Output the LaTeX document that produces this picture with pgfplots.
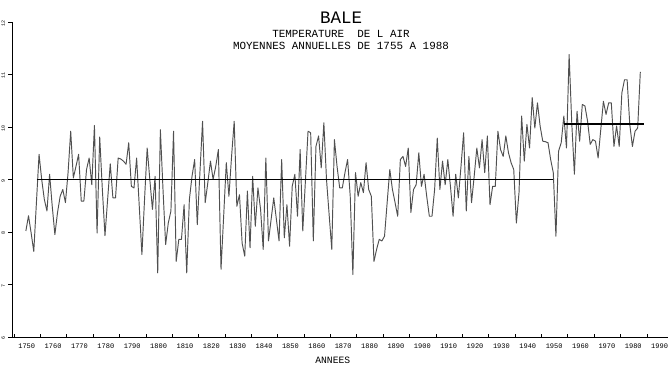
\documentclass[border=0pt]{standalone}
\usepackage{fontspec}
\setmonofont{Liberation Mono}
\usepackage{pgfplots}
\usepackage{pgfplotstable}
\pgfplotsset{compat=1.18}
\definecolor{dataline}{RGB}{80,80,80}
\pgfplotstableread{
year T
1755 8.02
1756 8.31
1757 7.98
1758 7.63
1759 8.56
1760 9.48
1761 9.00
1762 8.62
1763 8.40
1764 9.10
1765 8.49
1766 7.95
1767 8.37
1768 8.68
1769 8.81
1770 8.56
1771 9.13
1772 9.92
1773 9.03
1774 9.25
1775 9.48
1776 8.59
1777 8.59
1778 9.19
1779 9.41
1780 8.90
1781 10.03
1782 7.98
1783 9.81
1784 8.81
1785 7.93
1786 8.62
1787 9.30
1788 8.65
1789 8.65
1790 9.41
1791 9.39
1792 9.35
1793 9.29
1794 9.70
1795 8.87
1796 8.84
1797 9.41
1798 8.49
1799 7.57
1800 8.62
1801 9.60
1802 9.00
1803 8.43
1804 9.06
1805 7.22
1806 9.95
1807 8.81
1808 7.76
1809 8.17
1810 8.40
1811 9.92
1812 7.44
1813 7.86
1814 7.86
1815 8.52
1816 7.22
1817 8.62
1818 9.06
1819 9.38
1820 8.14
1821 9.13
1822 10.11
1823 8.56
1824 8.94
1825 9.35
1826 9.00
1827 9.25
1828 9.57
1829 7.29
1830 8.30
1831 9.32
1832 8.68
1833 9.44
1834 10.11
1835 8.49
1836 8.71
1837 7.79
1838 7.54
1839 8.78
1840 7.70
1841 9.06
1842 8.11
1843 8.84
1844 8.43
1845 7.67
1846 9.41
1847 7.83
1848 8.24
1849 8.65
1850 8.24
1851 7.83
1852 9.38
1853 7.89
1854 8.52
1855 7.73
1856 8.87
1857 9.10
1858 8.30
1859 9.57
1860 8.02
1861 8.97
1862 9.92
1863 9.89
1864 7.83
1865 9.63
1866 9.83
1867 9.22
1868 10.08
1869 9.00
1870 8.33
1871 7.67
1872 9.76
1873 9.25
1874 8.84
1875 8.84
1876 9.13
1877 9.38
1878 8.68
1879 7.19
1880 9.13
1881 8.68
1882 8.94
1883 8.75
1884 9.32
1885 8.81
1886 8.68
1887 7.44
1888 7.67
1889 7.86
1890 7.83
1891 7.92
1892 8.56
1893 9.19
1894 8.81
1895 8.56
1896 8.30
1897 9.38
1898 9.44
1899 9.25
1900 9.60
1901 8.37
1902 8.81
1903 8.90
1904 9.51
1905 8.87
1906 9.10
1907 8.68
1908 8.30
1909 8.30
1910 8.81
1911 9.79
1912 8.81
1913 9.35
1914 8.90
1915 9.38
1916 8.87
1917 8.30
1918 9.10
1919 8.65
1920 9.25
1921 9.89
1922 8.40
1923 9.44
1924 8.56
1925 9.06
1926 9.60
1927 9.22
1928 9.76
1929 9.13
1930 9.83
1931 8.52
1932 8.87
1933 8.87
1934 9.92
1935 9.57
1936 9.44
1937 9.83
1938 9.51
1939 9.32
1940 9.19
1941 8.17
1942 8.75
1943 10.21
1944 9.35
1945 10.05
1946 9.60
1947 10.56
1948 9.98
1949 10.46
1950 10.02
1951 9.73
1952 9.72
1953 9.70
1954 9.38
1955 9.13
1956 7.92
1957 9.54
1958 9.70
1959 10.21
1960 9.60
1961 11.38
1962 10.08
1963 9.10
1964 10.30
1965 9.73
1966 10.43
1967 10.40
1968 10.11
1969 9.67
1970 9.76
1971 9.73
1972 9.41
1973 9.95
1974 10.49
1975 10.24
1976 10.46
1977 10.46
1978 9.63
1979 10.02
1980 9.63
1981 10.65
1982 10.90
1983 10.90
1984 10.05
1985 9.63
1986 9.92
1987 9.98
1988 11.05
}\basle
\begin{document}
\begin{tikzpicture}
\useasboundingbox (0,0) rectangle (669pt,-365pt);
\begin{axis}[
  at={(12pt,-337pt)}, anchor=south west,
  scale only axis, width=656pt, height=315pt,
  xmin=1749.24, xmax=1998, ymin=6, ymax=12,
  axis lines=left, axis line style={line width=0.9pt, -},
  xtick={1750,1760,...,1990},
  xticklabel style={anchor=north west, xshift=0.8pt, yshift=-3.5pt},
  x tick label style={/pgf/number format/1000 sep={}},
  xtick align=inside, ytick align=outside,
  major tick length=3.5pt,
  tick style={line width=0.7pt, black},
  ytick={6,7,...,12},
  yticklabel style={rotate=90, anchor=south, font=\ttfamily\fontsize{5}{5}\selectfont, xshift=-1pt},
  ticklabel style={font=\ttfamily\fontsize{7}{8}\selectfont},
  /pgf/number format/assume math mode=true,
  xlabel={ANNEES},
  xlabel style={at={(axis description cs:0.489,0)}, anchor=center, yshift=-23pt, font=\ttfamily\fontsize{9.7}{10}\selectfont},
  clip=false,
]
\addplot[dataline, line width=0.95pt, line join=round] table[x expr=\thisrow{year}-0.5, y=T] {\basle};
\addplot[black, line width=1.5pt] coordinates {(1758.6,9.0) (1954.4,9.0)};
\addplot[black, line width=1.5pt] coordinates {(1958.5,10.06) (1988.9,10.06)};
\end{axis}
\node[font=\ttfamily\fontsize{17.5}{18}\selectfont] at (341pt,-17.5pt) {BALE};
\node[font=\ttfamily\fontsize{10.9}{11}\selectfont] at (341pt,-33.5pt) {TEMPERATURE\ \ DE L AIR};
\node[font=\ttfamily\fontsize{10.9}{11}\selectfont] at (341pt,-45.5pt) {MOYENNES ANNUELLES DE 1755 A 1988};
\end{tikzpicture}
\end{document}
